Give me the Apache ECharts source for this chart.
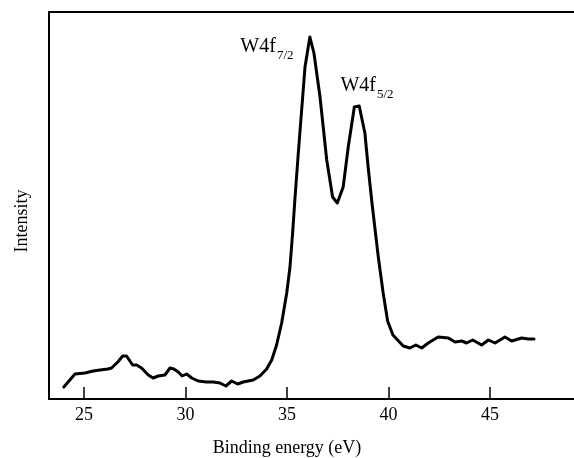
<!DOCTYPE html>
<html>
<head>
<meta charset="utf-8">
<script src="https://cdn.jsdelivr.net/npm/echarts@6/dist/echarts.min.js"></script>
<style>html,body{margin:0;padding:0;background:#fff;}#c{width:574px;height:458px;}</style>
</head>
<body>
<div id="c"></div>
<script>
// Binding energy (eV)
const energy = [24.01,24.56,25.05,25.46,25.79,26.18,26.36,26.67,26.91,27.10,27.40,27.60,27.84,28.17,28.41,28.66,28.99,29.24,29.43,29.65,29.84,30.06,30.31,30.63,31.04,31.37,31.70,31.99,32.28,32.57,32.85,33.34,33.67,34.00,34.25,34.49,34.74,34.99,35.15,35.28,35.39,35.56,35.89,36.13,36.33,36.63,36.96,37.25,37.48,37.77,38.02,38.32,38.56,38.84,39.00,39.20,39.50,39.74,39.96,40.22,40.73,41.06,41.35,41.64,41.96,42.45,42.95,43.28,43.61,43.85,44.15,44.59,44.92,45.25,45.74,46.07,46.56,46.89,47.17];
// Intensity (arbitrary units)
const intensity = [12,25,26,28,29,30,31,37,43,43,34,34,31,24,21,23,24,31,30,27,23,25,21,18,17,17,16,13,18,15,17,19,23,30,39,54,76,106,132,166,199,246,332,362,346,302,239,202,196,212,252,292,293,266,232,194,142,106,78,64,53,51,54,51,56,62,61,57,58,56,59,54,59,56,62,58,61,60,60];
const xTicks = [25,30,35,40,45];
const peakLabels = [
  {main:'W4f', sub:'7/2', x:36.13, y:362},
  {main:'W4f', sub:'5/2', x:38.45, y:293}
];
const xName = 'Binding energy (eV)';
const yName = 'Intensity';

const data = energy.map((e,i)=>[e,intensity[i]]);
const font = 'Liberation Serif';
const chart = echarts.init(document.getElementById('c'));
chart.setOption({
  animation:false,
  backgroundColor:'#fff',
  grid:{left:49,right:0,top:12,bottom:59,containLabel:false},
  xAxis:[{
    type:'value', min:23.28, max:49.14, position:'bottom',
    axisLine:{show:true,onZero:false,lineStyle:{color:'#000',width:2}},
    axisTick:{show:true,inside:true,length:12,lineStyle:{color:'#000',width:1.5},customValues:xTicks},
    axisLabel:{show:true,margin:7,color:'#000',fontFamily:font,fontSize:18,customValues:xTicks},
    splitLine:{show:false}
  },{
    type:'value', min:23.28, max:49.14, position:'top',
    axisLine:{show:true,onZero:false,lineStyle:{color:'#000',width:2}},
    axisTick:{show:false}, axisLabel:{show:false}, splitLine:{show:false}
  }],
  yAxis:{
    type:'value', min:0, max:387,
    axisLine:{show:true,onZero:false,lineStyle:{color:'#000',width:2}},
    axisTick:{show:false}, axisLabel:{show:false}, splitLine:{show:false}
  },
  series:[{
    type:'line', data:data, showSymbol:false, symbol:'none', smooth:false,
    lineStyle:{color:'#000',width:3,join:'round',cap:'round'}
  }]
});

const g = [];
g.push({type:'text',x:287,y:448,style:{text:xName,font:'18px "Liberation Serif"',fill:'#000',textAlign:'center',textVerticalAlign:'middle'}});
g.push({type:'text',x:22,y:221,rotation:Math.PI/2,style:{text:yName,font:'18px "Liberation Serif"',fill:'#000',textAlign:'center',textVerticalAlign:'middle'}});
const offsets = [[-34,20],[19,-10]];
peakLabels.forEach((p,i)=>{
  const pt = chart.convertToPixel({xAxisIndex:0,yAxisIndex:0},[p.x,p.y]);
  const rx = pt[0]+offsets[i][0];
  const by = pt[1]+offsets[i][1];
  g.push({type:'text',x:rx,y:by,style:{text:p.main,font:'20px "Liberation Serif"',fill:'#000',textAlign:'right',textVerticalAlign:'bottom'}});
  g.push({type:'text',x:rx+1,y:by+5,style:{text:p.sub,font:'13px "Liberation Serif"',fill:'#000',textAlign:'left',textVerticalAlign:'bottom'}});
});
chart.setOption({graphic:g});
</script>
</body>
</html>
